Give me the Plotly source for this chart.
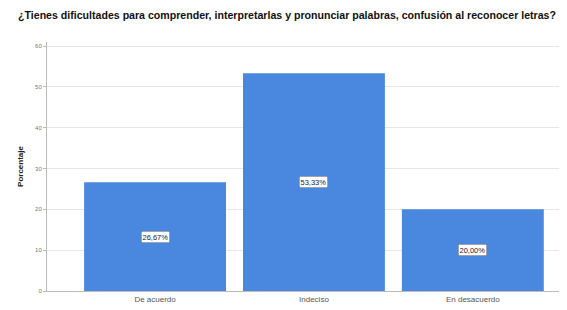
import plotly.graph_objects as go

categories = ["De acuerdo", "Indeciso", "En desacuerdo"]
values = [26.67, 53.33, 20.00]
value_labels = ["26,67%", "53,33%", "20,00%"]
y_ticks = [0, 10, 20, 30, 40, 50, 60]
y_ticklabels = ["0", "10", "20", "30", "40", "50", "60"]

title = "¿Tienes dificultades para comprender, interpretarlas y pronunciar palabras, confusión al reconocer letras?"

fig = go.Figure()
fig.add_trace(go.Bar(
    x=categories, y=values,
    marker=dict(color="#4a88e0", line=dict(width=0)),
    hoverinfo="skip",
))

for c, v, t in zip(categories, values, value_labels):
    fig.add_annotation(
        x=c, y=v / 2, text=t, showarrow=False,
        font=dict(family="Liberation Sans", size=7.5, color="#222222"),
        bgcolor="white", bordercolor="#666666", borderwidth=0.5, borderpad=1,
    )

fig.update_layout(
    width=559, height=302,
    margin=dict(l=39, r=2, t=34, b=19),
    paper_bgcolor="white", plot_bgcolor="white",
    bargap=0.107,
    showlegend=False,
    font=dict(family="Liberation Sans", color="#555555"),
    title=dict(
        text="<b>" + title + "</b>",
        x=0.018, xanchor="left", y=0.975, yanchor="middle",
        font=dict(family="Liberation Sans", size=10.6, color="#111111"),
    ),
    xaxis=dict(
        type="category",
        range=[-0.68, 2.58],
        showline=True, linecolor="#bbbbbb", linewidth=1,
        ticks="", tickfont=dict(size=8, color="#555555"),
        showgrid=False,
    ),
    yaxis=dict(
        range=[0, 61],
        tickvals=y_ticks, ticktext=y_ticklabels,
        showline=True, linecolor="#bbbbbb", linewidth=1,
        ticks="outside", ticklen=3, tickcolor="#bbbbbb",
        tickfont=dict(size=6, color="#777777"),
        showgrid=True, gridcolor="#e6e6e6", gridwidth=1,
        zeroline=False,
        title=dict(text="<b>Porcentaje</b>", font=dict(size=8, color="#222222"), standoff=10),
    ),
)

fig.write_html("out.html")
